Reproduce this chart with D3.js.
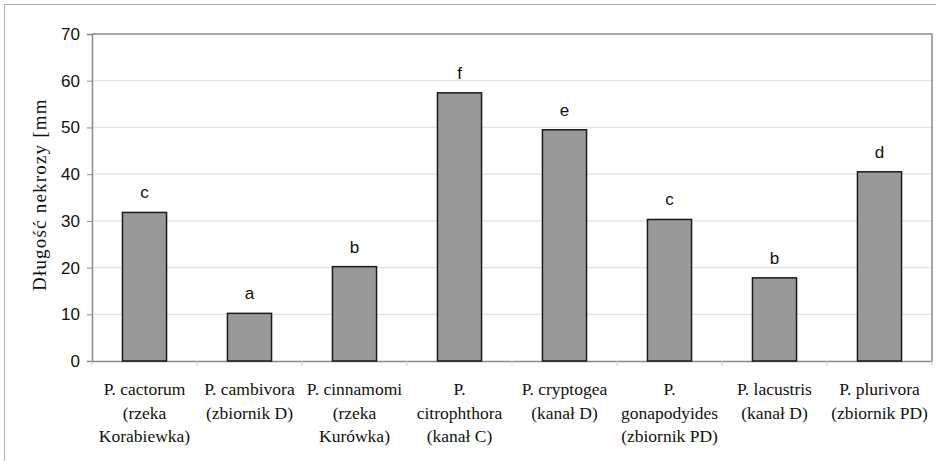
<!DOCTYPE html>
<html><head><meta charset="utf-8">
<script src="https://cdn.jsdelivr.net/npm/d3@7"></script>
<style>body{margin:0;background:#fff}svg{display:block}</style>
</head><body>
<svg id="c" width="936" height="461"></svg>
<script>
const categories = [
  ["P. cactorum","(rzeka","Korabiewka)"],
  ["P. cambivora","(zbiornik D)"],
  ["P. cinnamomi","(rzeka","Kurówka)"],
  ["P.","citrophthora","(kanał C)"],
  ["P. cryptogea","(kanał D)"],
  ["P.","gonapodyides","(zbiornik PD)"],
  ["P. lacustris","(kanał D)"],
  ["P. plurivora","(zbiornik PD)"]
];
const values = [31.8, 10.2, 20.2, 57.4, 49.5, 30.3, 17.8, 40.5];
const letters = ["c","a","b","f","e","c","b","d"];
const yTicks = [0,10,20,30,40,50,60,70];
const yTitle = "Długość nekrozy [mm]";

const svg = d3.select("#c");
const L = 92, R = 932, T = 34, B = 361;

svg.append("rect").attr("x",4.5).attr("y",4.5).attr("width",960).attr("height",480)
  .attr("fill","none").attr("stroke","#b0b0b0").attr("stroke-width",1);

const x = d3.scaleBand().domain(d3.range(categories.length)).range([L,R]).paddingInner(0.58).paddingOuter(0.29);
const xb = d3.scaleBand().domain(d3.range(categories.length)).range([L,R]);
const y = d3.scaleLinear().domain([0,70]).range([B,T]);

// gridlines
svg.append("g").selectAll("line").data(yTicks.filter(d=>d>0 && d<70)).join("line")
  .attr("x1",L).attr("x2",R).attr("y1",d=>y(d)).attr("y2",d=>y(d))
  .attr("stroke","#e2e2e2").attr("stroke-width",1.2);

// frame top & right
svg.append("line").attr("x1",L).attr("x2",R).attr("y1",T).attr("y2",T).attr("stroke","#8a8a8a").attr("stroke-width",1.5);
svg.append("line").attr("x1",R).attr("x2",R).attr("y1",T).attr("y2",B).attr("stroke","#8a8a8a").attr("stroke-width",1.5);

// y axis
const ya = svg.append("g").attr("transform",`translate(${L},0)`)
  .call(d3.axisLeft(y).tickValues(yTicks).tickSize(5).tickPadding(7));
ya.attr("font-size",null).attr("font-family",null);
ya.select(".domain").attr("stroke","#8a8a8a").attr("stroke-width",1.5);
ya.selectAll(".tick line").attr("stroke","#8a8a8a");
ya.selectAll(".tick text").style("font-family","'Liberation Sans', Arial, sans-serif").style("font-size","17px").attr("fill","#111");

// x axis
const xa = svg.append("g").attr("transform",`translate(0,${B})`)
  .call(d3.axisBottom(xb).tickSize(0).tickFormat(""));
xa.select(".domain").attr("stroke","#8a8a8a").attr("stroke-width",1.5);
xa.selectAll(".tick").remove();
svg.append("g").selectAll("line").data(d3.range(categories.length+1)).join("line")
  .attr("x1",i=>i<categories.length?xb(i):R).attr("x2",i=>i<categories.length?xb(i):R)
  .attr("y1",B).attr("y2",B+5).attr("stroke","#cfcfcf").attr("stroke-width",1);

// bars
svg.append("g").selectAll("rect").data(values).join("rect")
  .attr("x",(d,i)=>x(i)).attr("width",x.bandwidth())
  .attr("y",d=>y(d)).attr("height",d=>B-y(d))
  .attr("fill","#999999").attr("stroke","#1a1a1a").attr("stroke-width",1.5);

// letters
svg.append("g").selectAll("text").data(values).join("text")
  .attr("x",(d,i)=>x(i)+x.bandwidth()/2).attr("y",d=>y(d)-14)
  .attr("text-anchor","middle").style("font-family","'Liberation Sans', Arial, sans-serif")
  .style("font-size","17px").attr("fill","#111").text((d,i)=>letters[i]);

// category labels
const cl = svg.append("g").selectAll("text").data(categories).join("text")
  .attr("text-anchor","middle").style("font-family","'Liberation Serif', 'Times New Roman', serif")
  .style("font-size","17.5px").attr("fill","#111");
cl.each(function(lines,i){
  const t = d3.select(this);
  lines.forEach((s,j)=>{
    t.append("tspan").attr("x",xb(i)+xb.bandwidth()/2).attr("y",395+j*23.5).text(s);
  });
});

// y title (clipped at top like the reference)
svg.append("clipPath").attr("id","tc").append("rect").attr("x",0).attr("y",99).attr("width",90).attr("height",300);
svg.append("g").attr("clip-path","url(#tc)").append("text")
  .attr("transform","translate(46,291) rotate(-90)")
  .attr("text-anchor","start").style("font-family","'Liberation Serif', 'Times New Roman', serif")
  .style("font-size","19px").style("letter-spacing","1.2px").attr("fill","#111").text(yTitle);
</script>
</body></html>
